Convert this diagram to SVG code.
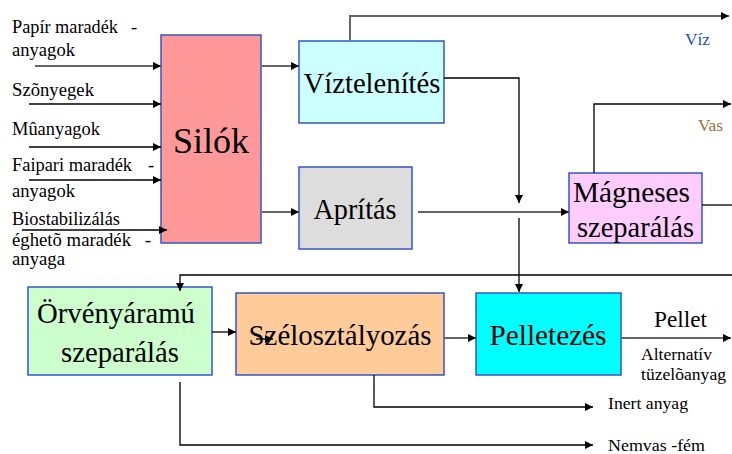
<svg xmlns="http://www.w3.org/2000/svg" width="732" height="454" viewBox="0 0 732 454">
<style>
text{font-family:"Liberation Serif","DejaVu Serif",serif;fill:#000}
.lbl{font-size:18.5px}
.box{font-size:29px;text-anchor:middle}
.big{font-size:36px;text-anchor:middle}
.sm{font-size:17.5px}
rect{stroke:#3355cc;stroke-width:1.5}
.c{fill:none;stroke:#000;stroke-width:1.3}
.g{fill:none;stroke:#666;stroke-width:2}
</style>
<defs>
<marker id="a" viewBox="0 0 10 10" refX="10" refY="5" markerWidth="10" markerHeight="8" markerUnits="userSpaceOnUse" orient="auto">
<path d="M0,0 L10,5 L0,10 Z" fill="#000"/>
</marker>
</defs>
<g id="inputs">
<text class="lbl" x="12" y="33" textLength="106" lengthAdjust="spacingAndGlyphs">Papír maradék</text><text class="lbl" x="131" y="33">-</text>
<text class="lbl" x="12" y="56" textLength="63" lengthAdjust="spacingAndGlyphs">anyagok</text>
<text class="lbl" x="12" y="96" textLength="82" lengthAdjust="spacingAndGlyphs">Szõnyegek</text>
<text class="lbl" x="12" y="135" textLength="88" lengthAdjust="spacingAndGlyphs">Mûanyagok</text>
<text class="lbl" x="12" y="171" textLength="120" lengthAdjust="spacingAndGlyphs">Faipari maradék</text><text class="lbl" x="148" y="171">-</text>
<text class="lbl" x="12" y="197" textLength="63" lengthAdjust="spacingAndGlyphs">anyagok</text>
<text class="lbl" x="12" y="225" textLength="108" lengthAdjust="spacingAndGlyphs">Biostabilizálás</text>
<text class="lbl" x="12" y="246" textLength="119" lengthAdjust="spacingAndGlyphs">éghetõ maradék</text><text class="lbl" x="145" y="246">-</text>
<text class="lbl" x="12" y="265" textLength="53" lengthAdjust="spacingAndGlyphs">anyaga</text>
</g>
<g id="silok">
<rect x="161" y="35" width="100" height="208" fill="#ff9999"/>
<text class="big" x="211" y="153" textLength="76" lengthAdjust="spacingAndGlyphs">Silók</text>
</g>
<g id="viztelenites">
<rect x="299" y="41" width="145" height="82" fill="#ccffff"/>
<text class="box" x="372" y="93" textLength="137" lengthAdjust="spacingAndGlyphs">Víztelenítés</text>
</g>
<g id="apritas">
<rect x="299" y="167" width="113" height="82" fill="#dddddd"/>
<text class="box" x="355" y="219" textLength="83" lengthAdjust="spacingAndGlyphs">Aprítás</text>
</g>
<g id="magneses">
<rect x="569" y="173" width="133" height="70" fill="#ffccff"/>
<text class="box" x="573" y="202" style="text-anchor:start" textLength="117" lengthAdjust="spacingAndGlyphs">Mágneses</text>
<text class="box" x="577" y="237" style="text-anchor:start" textLength="117" lengthAdjust="spacingAndGlyphs">szeparálás</text>
</g>
<g id="orveny">
<rect x="28" y="287" width="184" height="88" fill="#ccffcc"/>
<text class="box" x="116" y="323" textLength="158" lengthAdjust="spacingAndGlyphs">Örvényáramú</text>
<text class="box" x="120" y="362" textLength="118" lengthAdjust="spacingAndGlyphs">szeparálás</text>
</g>
<g id="szelo">
<rect x="236" y="293" width="208" height="82" fill="#ffcc99"/>
<text class="box" x="340" y="345" textLength="183" lengthAdjust="spacingAndGlyphs">Szélosztályozás</text>
</g>
<g id="pelletezes">
<rect x="476" y="293" width="145" height="82" fill="#00ffff"/>
<text class="box" x="548" y="345" textLength="117" lengthAdjust="spacingAndGlyphs">Pelletezés</text>
</g>
<g id="outputs">
<text x="685" y="45" style="font-size:17px;fill:#2050d0" textLength="25" lengthAdjust="spacingAndGlyphs">Víz</text>
<text x="698" y="131" style="font-size:16.5px;fill:#a0703a" textLength="25" lengthAdjust="spacingAndGlyphs">Vas</text>
<text x="654" y="327" style="font-size:23px" textLength="53" lengthAdjust="spacingAndGlyphs">Pellet</text>
<text class="sm" x="641" y="360" textLength="71" lengthAdjust="spacingAndGlyphs">Alternatív</text>
<text class="sm" x="641" y="380" textLength="85" lengthAdjust="spacingAndGlyphs">tüzelõanyag</text>
<text class="sm" x="608" y="409" textLength="80" lengthAdjust="spacingAndGlyphs">Inert anyag</text>
<text class="sm" x="608" y="451" textLength="97" lengthAdjust="spacingAndGlyphs">Nemvas -fém</text>
</g>
<g id="connectors">
<path class="g" d="M35,66 H161" marker-end="url(#a)"/>
<path class="c" d="M29,104 H161" marker-end="url(#a)"/>
<path class="c" d="M29,147 H161" marker-end="url(#a)"/>
<path class="c" d="M29,180 H161" marker-end="url(#a)"/>
<path class="c" d="M22,230 H167" marker-end="url(#a)"/>
<path class="g" d="M262,66 H299" marker-end="url(#a)"/>
<path class="g" d="M262,212 H299" marker-end="url(#a)"/>
<path class="g" d="M350,40 V16 H729" marker-end="url(#a)"/>
<path class="c" d="M444,78 H519 V203" marker-end="url(#a)"/>
<path class="g" d="M418,212 H569" marker-end="url(#a)"/>
<path class="c" d="M519,218 V292" marker-end="url(#a)"/>
<path class="c" d="M594,173 V104 H731" marker-end="url(#a)"/>
<path class="c" d="M702,205 H732"/>
<path class="c" d="M732,275 H180 V291" marker-end="url(#a)"/>
<path class="c" d="M212,332 H236" marker-end="url(#a)"/>
<path class="c" d="M256,339 H273" marker-end="url(#a)"/>
<path class="g" d="M444,338 H476" marker-end="url(#a)"/>
<path class="g" d="M621,338 H731" marker-end="url(#a)"/>
<path class="c" d="M374,375 V407 H593" marker-end="url(#a)"/>
<path class="c" d="M180,382 V445 H593" marker-end="url(#a)"/>
</g>
</svg>
